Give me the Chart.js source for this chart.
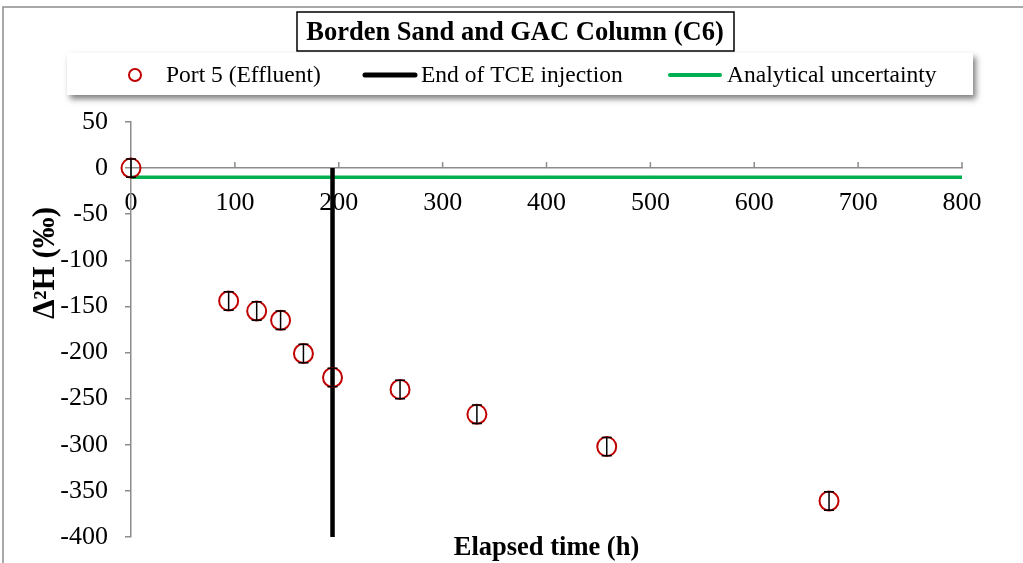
<!DOCTYPE html>
<html>
<head>
<meta charset="utf-8">
<script src="https://cdn.jsdelivr.net/npm/chart.js@4.4.1/dist/chart.umd.min.js"></script>
<style>
  html, body { margin: 0; padding: 0; background: #fff; }
  #wrap { width: 1023px; height: 563px; position: relative; }
</style>
</head>
<body>
<div id="wrap"><canvas id="myChart"></canvas></div>
<script>
// data
const times = [0, 94, 121, 144, 166, 194, 259, 333, 458, 672];
const delta = [0, -144, -155, -165, -201, -227, -240, -267, -302, -361];
const errs = [10, 10, 10, 10, 10, 10, 10, 10, 10, 10];
const injectionEnd = 194;
const uncertainty = -10;
const xTicks = [0, 100, 200, 300, 400, 500, 600, 700, 800];
const yTicks = [50, 0, -50, -100, -150, -200, -250, -300, -350, -400];

const SERIF = '"Liberation Serif", "Times New Roman", serif';

let points = times.map((t, i) => ({ x: t, y: delta[i] }));

// error bars, frame, title box, legend box, axis titles
const decor = {
    id: 'decor',
    beforeDraw(chart) {
        const ctx = chart.ctx;
        ctx.save();
        ctx.strokeStyle = '#8c8c8c';
        ctx.lineWidth = 1.5;
        ctx.strokeRect(3, 7, 1100, 700);
        ctx.restore();
    },
    afterDatasetsDraw(chart) {
        const ctx = chart.ctx;
        const xs = chart.scales.x, ys = chart.scales.y;
        ctx.save();
        ctx.strokeStyle = '#000';
        ctx.lineWidth = 1.5;
        points.forEach((p, i) => {
            let px = xs.getPixelForValue(p.x);
            let top = ys.getPixelForValue(p.y + errs[i]);
            let bot = ys.getPixelForValue(p.y - errs[i]);
            ctx.beginPath();
            ctx.moveTo(px, top); ctx.lineTo(px, bot);
            ctx.moveTo(px - 5, top); ctx.lineTo(px + 5, top);
            ctx.moveTo(px - 5, bot); ctx.lineTo(px + 5, bot);
            ctx.stroke();
        });
        // x tick marks pointing up
        ctx.strokeStyle = '#8c8c8c';
        let y0 = ys.getPixelForValue(0);
        xTicks.forEach(v => {
            if (v === 0) return;
            let px = xs.getPixelForValue(v);
            ctx.beginPath();
            ctx.moveTo(px, y0); ctx.lineTo(px, y0 - 6);
            ctx.stroke();
        });
        ctx.restore();
    },
    afterDraw(chart) {
        const ctx = chart.ctx;
        const area = chart.chartArea;
        ctx.save();

        // title
        ctx.strokeStyle = '#000';
        ctx.lineWidth = 1.5;
        ctx.strokeRect(297, 12, 437, 39);
        ctx.fillStyle = '#000';
        ctx.font = 'bold 26.5px ' + SERIF;
        ctx.textAlign = 'center';
        ctx.textBaseline = 'middle';
        ctx.fillText('Borden Sand and GAC Column (C6)', 515, 33);

        // legend box with shadow
        ctx.save();
        ctx.shadowColor = 'rgba(0,0,0,0.5)';
        ctx.shadowBlur = 6;
        ctx.shadowOffsetX = 3;
        ctx.shadowOffsetY = 4;
        ctx.fillStyle = '#fff';
        ctx.fillRect(67, 53, 906, 42);
        ctx.restore();

        ctx.font = '23.5px ' + SERIF;
        ctx.textAlign = 'left';
        ctx.textBaseline = 'middle';
        ctx.fillStyle = '#000';
        let ly = 75;
        ctx.strokeStyle = '#c00000';
        ctx.lineWidth = 2;
        ctx.beginPath(); ctx.arc(135, ly, 6, 0, Math.PI * 2); ctx.stroke();
        ctx.fillText('Port 5 (Effluent)', 166, ly + 1);

        ctx.lineCap = 'round';
        ctx.strokeStyle = '#000';
        ctx.lineWidth = 5;
        ctx.beginPath(); ctx.moveTo(365, ly); ctx.lineTo(415, ly); ctx.stroke();
        ctx.fillText('End of TCE injection', 421, ly + 1);

        ctx.strokeStyle = '#00b050';
        ctx.lineWidth = 4;
        ctx.beginPath(); ctx.moveTo(670, ly); ctx.lineTo(720, ly); ctx.stroke();
        ctx.fillText('Analytical uncertainty', 727, ly + 1);

        // axis titles
        ctx.font = 'bold 26.5px ' + SERIF;
        ctx.textAlign = 'center';
        ctx.fillText('Elapsed time (h)', (area.left + area.right) / 2, 548);

        ctx.font = 'bold 31px ' + SERIF;
        ctx.translate(46, 263);
        ctx.rotate(-Math.PI / 2);
        ctx.fillText('\u0394\u00B2H (\u2030)', 0, 0);
        ctx.restore();
    }
};

let element = document.querySelector('#myChart').getContext('2d');
let chart_output = new Chart(element, {
    type: 'scatter',
    data: {
        datasets: [
            {
                label: 'Port 5 (Effluent)',
                data: points,
                pointStyle: 'circle',
                pointRadius: 9.5,
                pointBorderWidth: 2,
                pointBorderColor: '#c00000',
                pointBackgroundColor: 'rgba(0,0,0,0)',
                showLine: false,
                clip: false
            },
            {
                label: 'End of TCE injection',
                data: [{ x: injectionEnd, y: 0 }, { x: injectionEnd, y: -400 }],
                showLine: true,
                borderColor: '#000',
                borderWidth: 4.5,
                pointRadius: 0,
                clip: false
            },
            {
                label: 'Analytical uncertainty',
                data: [{ x: 0, y: uncertainty }, { x: 800, y: uncertainty }],
                showLine: true,
                borderColor: '#00b050',
                borderWidth: 3.5,
                pointRadius: 0,
                clip: false
            }
        ]
    },
    options: {
        responsive: true,
        maintainAspectRatio: false,
        animation: false,
        layout: { padding: { top: 122, left: 0, right: 61, bottom: 26 } },
        plugins: {
            legend: { display: false },
            title: { display: false },
            tooltip: { enabled: false }
        },
        scales: {
            x: {
                type: 'linear',
                position: { y: 0 },
                min: 0, max: 800,
                afterBuildTicks: s => { s.ticks = xTicks.map(v => ({ value: v })); },
                afterFit: s => { s.paddingTop = 0; s.paddingBottom = 0; },
                grid: { display: false, tickLength: 0 },
                border: { display: true, color: '#8c8c8c', width: 1.5 },
                ticks: {
                    color: '#000',
                    padding: 19,
                    maxRotation: 0,
                    font: { family: SERIF, size: 26 }
                }
            },
            y: {
                type: 'linear',
                min: -400, max: 50,
                afterBuildTicks: s => { s.ticks = yTicks.map(v => ({ value: v })); },
                afterFit: s => { s.width = 131; s.paddingTop = 0; s.paddingBottom = 0; },
                grid: { drawOnChartArea: false, drawTicks: true, tickLength: 6, color: '#8c8c8c', lineWidth: 1.5 },
                border: { display: true, color: '#8c8c8c', width: 1.5 },
                ticks: {
                    color: '#000',
                    padding: 17,
                    font: { family: SERIF, size: 26 }
                }
            }
        }
    },
    plugins: [decor]
});
</script>
</body>
</html>
